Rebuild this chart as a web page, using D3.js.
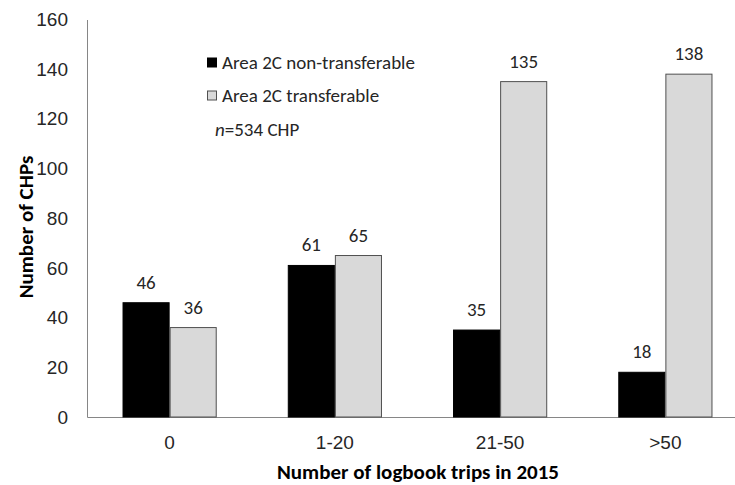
<!DOCTYPE html>
<html>
<head>
<meta charset="utf-8">
<script src="https://cdn.jsdelivr.net/npm/d3@7.9.0/dist/d3.min.js"></script>
<style>
  body { margin: 0; background: #fff; }
  svg { display: block; font-family: Carlito, "Open Sans", "Liberation Sans", sans-serif; }
</style>
</head>
<body>
<svg id="chart" width="735" height="485"></svg>
<script>
const categories = ['0', '1-20', '21-50', '>50'];
const seriesNames = ['Area 2C non-transferable', 'Area 2C transferable'];
const nonTransferable = [46, 61, 35, 18];
const transferable = [36, 65, 135, 138];
const yTicks = [0, 20, 40, 60, 80, 100, 120, 140, 160];

const colors = ['#000000', '#d9d9d9'];
const strokes = ['#000000', '#505050'];
const textColor = '#262626';

const svg = d3.select('#chart');
const plotLeft = 87, plotRight = 748, plotTop = 19.5, plotBottom = 417;

const x = d3.scaleBand().domain(categories).range([plotLeft, plotRight])
  .paddingInner(0.43).paddingOuter(0.215);
const xSub = d3.scaleBand().domain([0, 1]).range([0, x.bandwidth()]);
const y = d3.scaleLinear().domain([0, 160]).range([plotBottom, plotTop]);

const rows = categories.map((c, i) => ({ cat: c, values: [nonTransferable[i], transferable[i]] }));

// axes
const yAxis = svg.append('g').attr('transform', `translate(${plotLeft},0)`)
  .call(d3.axisLeft(y).tickValues(yTicks).tickSize(0).tickPadding(19));
yAxis.select('.domain').attr('stroke', '#868686');
yAxis.selectAll('text').attr('font-size', 19).attr('fill', textColor);

const xAxis = svg.append('g').attr('transform', `translate(0,${plotBottom})`)
  .call(d3.axisBottom(x).tickSize(0).tickPadding(18.5));
xAxis.select('.domain').attr('stroke', '#868686');
xAxis.selectAll('text').attr('font-size', 19).attr('fill', textColor);

// bars
const groups = svg.append('g').selectAll('g').data(rows).join('g')
  .attr('transform', d => `translate(${x(d.cat)},0)`);

groups.selectAll('rect')
  .data(d => d.values.map((v, k) => ({ v, k })))
  .join('rect')
  .attr('x', d => xSub(d.k) + 0.5)
  .attr('y', d => y(d.v))
  .attr('width', xSub.bandwidth() - 1)
  .attr('height', d => y(0) - y(d.v))
  .attr('fill', d => colors[d.k])
  .attr('stroke', d => strokes[d.k])
  .attr('stroke-width', 1);

groups.selectAll('text.val')
  .data(d => d.values.map((v, k) => ({ v, k })))
  .join('text')
  .attr('class', 'val')
  .attr('x', d => xSub(d.k) + xSub.bandwidth() / 2)
  .attr('y', d => y(d.v) - 14)
  .attr('text-anchor', 'middle')
  .attr('font-size', 19)
  .attr('fill', textColor)
  .text(d => d.v);

// axis titles
svg.append('text')
  .attr('transform', 'translate(33,227) rotate(-90)')
  .attr('text-anchor', 'middle')
  .attr('font-size', 21).attr('font-weight', 'bold')
  .text('Number of CHPs');

svg.append('text')
  .attr('x', 418).attr('y', 479)
  .attr('text-anchor', 'middle')
  .attr('font-size', 21).attr('font-weight', 'bold')
  .text('Number of logbook trips in 2015');

// legend
const legend = svg.append('g').attr('transform', 'translate(207,0)');
seriesNames.forEach((name, k) => {
  const cy = 62.5 + k * 33;
  legend.append('rect')
    .attr('x', 0.5).attr('y', cy - 4.5).attr('width', 9).attr('height', 9)
    .attr('fill', colors[k]).attr('stroke', strokes[k]);
  legend.append('text')
    .attr('x', 15).attr('y', cy).attr('dy', '0.35em')
    .attr('font-size', 19).attr('fill', textColor)
    .text(name);
});

const n = svg.append('text').attr('x', 215).attr('y', 129).attr('dy', '0.35em')
  .attr('font-size', 19).attr('fill', textColor);
n.append('tspan').attr('font-style', 'italic').text('n');
n.append('tspan').text('=534 CHP');
</script>
</body>
</html>
